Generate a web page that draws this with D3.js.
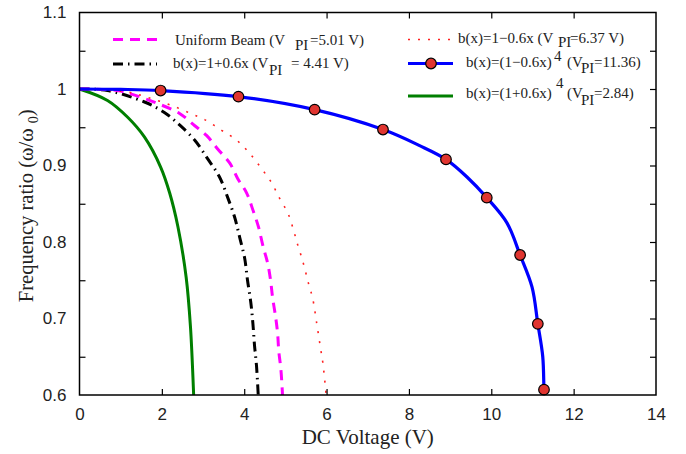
<!DOCTYPE html>
<html lang="en">
<head>
<meta charset="UTF-8">
<title>Frequency ratio vs DC voltage</title>
<script src="https://d3js.org/d3.v7.min.js"></script>
<style>
    body { margin: 0; background: #fff; }
    svg { display: block; font-family: "Liberation Serif", "Times New Roman", serif; }
    .tick text { fill: #222; font-size: 17px; }
    .tick line { stroke: #000; stroke-width: 1.2px; }
    .legend text { fill: #222; font-size: 15px; }
</style>
</head>
<body>
<svg id="chart" width="686" height="454"></svg>
<script>
    // axis ticks
    const xTicks = [0, 2, 4, 6, 8, 10, 12, 14];
    const yTicks = [0.6, 0.7, 0.8, 0.9, 1.0, 1.1];
    const yLeftMinor = [0.65, 0.75, 0.85, 0.95, 1.05];
    const yRightTicks = [0.65, 0.7, 0.75, 0.8, 0.85, 0.9, 0.95, 1.0, 1.05];

    // curves: [voltage, frequency ratio]
    const uniform = [[0, 1.0], [0.92, 0.998], [1.34, 0.992], [1.90, 0.981], [2.43, 0.968], [2.80, 0.952],
        [3.09, 0.939], [3.35, 0.922], [3.65, 0.903], [3.84, 0.883], [4.06, 0.864], [4.21, 0.842],
        [4.35, 0.819], [4.45, 0.796], [4.57, 0.772], [4.64, 0.750], [4.69, 0.727], [4.76, 0.703],
        [4.81, 0.681], [4.84, 0.657], [4.89, 0.634], [4.93, 0.600]];
    const linPlus = [[0, 1.0], [0.68, 0.998], [1.58, 0.983], [2.07, 0.969], [2.45, 0.952], [2.80, 0.933],
        [3.11, 0.909], [3.40, 0.885], [3.60, 0.858], [3.77, 0.832], [3.89, 0.806], [4.01, 0.779],
        [4.08, 0.750], [4.16, 0.721], [4.21, 0.694], [4.25, 0.665], [4.30, 0.637], [4.34, 0.600]];
    const linMinus = [[0, 1.0], [1.17, 0.996], [1.65, 0.989], [2.21, 0.979], [2.70, 0.968], [3.04, 0.960],
        [3.45, 0.946], [3.82, 0.933], [4.13, 0.916], [4.42, 0.896], [4.67, 0.877], [4.86, 0.857],
        [5.06, 0.838], [5.20, 0.815], [5.30, 0.796], [5.40, 0.779], [5.49, 0.761], [5.57, 0.744],
        [5.66, 0.727], [5.76, 0.694], [5.86, 0.659], [5.91, 0.642], [5.99, 0.600]];
    const quartMinus = [[0, 1.0], [1.0, 0.9995], [1.97, 0.998], [3.86, 0.990], [5.71, 0.973],
        [7.37, 0.947], [8.26, 0.926], [8.90, 0.908], [9.41, 0.885],
        [9.89, 0.858], [10.38, 0.825], [10.70, 0.783], [10.99, 0.741], [11.13, 0.693], [11.25, 0.650],
        [11.28, 0.607], [11.29, 0.600]];
    const quartMinusMarks = [[1.97, 0.998], [3.86, 0.990], [5.71, 0.973], [7.37, 0.947], [8.90, 0.908],
        [9.89, 0.858], [10.70, 0.783], [11.13, 0.693], [11.28, 0.607]];
    const quartPlus = [[0, 1.0], [0.68, 0.985], [1.17, 0.963], [1.58, 0.937], [1.97, 0.898], [2.19, 0.864],
        [2.39, 0.820], [2.59, 0.754], [2.695, 0.689], [2.77, 0.603], [2.772, 0.600]];

    const margin = {left: 79.5, right: 30, top: 12.5, bottom: 59};
    const W = 686, H = 454;
    const svg = d3.select("#chart");

    const x = d3.scaleLinear().domain([0, 14]).range([margin.left, W - margin.right]);
    const y = d3.scaleLinear().domain([0.6, 1.1]).range([H - margin.bottom, margin.top]);

    svg.append("clipPath").attr("id", "clip")
        .append("rect")
        .attr("x", x(0)).attr("y", y(1.1))
        .attr("width", x(14) - x(0)).attr("height", y(0.6) - y(1.1));

    const line = d3.line().x(d => x(d[0])).y(d => y(d[1])).curve(d3.curveCatmullRom.alpha(0.5));

    const series = [
        {data: quartPlus, color: "#007f00", width: 3, dash: null},
        {data: linPlus, color: "#000", width: 3, dash: "10,5,1.5,5"},
        {data: uniform, color: "#ff00ff", width: 3, dash: "10,7"},
        {data: linMinus, color: "#ff2020", width: 1.6, dash: "2,8"},
        {data: quartMinus, color: "#0000ff", width: 3.2, dash: null}
    ];

    const plot = svg.append("g").attr("clip-path", "url(#clip)");
    plot.selectAll("path.curve")
        .data(series)
        .join("path")
        .attr("class", "curve")
        .attr("d", d => line(d.data))
        .attr("fill", "none")
        .attr("stroke", d => d.color)
        .attr("stroke-width", d => d.width)
        .attr("stroke-dasharray", d => d.dash);

    svg.append("g").selectAll("circle")
        .data(quartMinusMarks)
        .join("circle")
        .attr("cx", d => x(d[0]))
        .attr("cy", d => y(d[1]))
        .attr("r", 5.3)
        .attr("fill", "#e03530")
        .attr("stroke", "#000")
        .attr("stroke-width", 1.2);

    // axes, ticks pointing inward
    const fmt = d => String(+d.toFixed(1));
    svg.append("g")
        .attr("transform", `translate(0,${y(0.6)})`)
        .call(d3.axisBottom(x).tickValues(xTicks).tickSizeInner(-6).tickSizeOuter(0).tickPadding(13));
    svg.append("g")
        .attr("transform", `translate(0,${y(1.1)})`)
        .call(d3.axisTop(x).tickValues(xTicks).tickSizeInner(-6).tickSizeOuter(0).tickFormat(""));
    svg.append("g")
        .attr("transform", `translate(${x(0)},0)`)
        .call(d3.axisLeft(y).tickValues(yTicks).tickSize(0).tickPadding(13).tickFormat(fmt));
    svg.append("g")
        .attr("transform", `translate(${x(0)},0)`)
        .call(d3.axisLeft(y).tickValues(yLeftMinor).tickSizeInner(-6).tickSizeOuter(0).tickFormat(""));
    svg.append("g")
        .attr("transform", `translate(${x(14)},0)`)
        .call(d3.axisRight(y).tickValues(yRightTicks).tickSizeInner(-6).tickSizeOuter(0).tickFormat(""));
    svg.selectAll(".domain").remove();
    svg.selectAll(".tick text").attr("font-family", null).attr("font-size", null);
    // drop ticks that sit on the frame
    svg.selectAll(".tick").filter(d => d === 0 || d === 14).select("line").remove();

    svg.append("rect")
        .attr("x", x(0)).attr("y", y(1.1))
        .attr("width", x(14) - x(0)).attr("height", y(0.6) - y(1.1))
        .attr("fill", "none").attr("stroke", "#000").attr("stroke-width", 1.5);

    // axis titles
    svg.append("text")
        .attr("x", (x(0) + x(14)) / 2).attr("y", 444)
        .attr("text-anchor", "middle")
        .attr("font-size", 21).attr("fill", "#222")
        .text("DC Voltage (V)");

    const yl = svg.append("text")
        .attr("transform", `translate(33,${(y(0.6) + y(1.1)) / 2 + 2}) rotate(-90)`)
        .attr("text-anchor", "middle")
        .attr("font-size", 20.5).attr("fill", "#222");
    yl.append("tspan").text("Frequency ratio (\u03c9/\u03c9 ");
    yl.append("tspan").attr("font-size", 14).attr("dy", 5).text("0");
    yl.append("tspan").attr("dy", -5).text(")");

    // legend
    const lg = svg.append("g").attr("class", "legend");

    function sample(x1, x2, yy, s) {
        lg.append("line")
            .attr("x1", x1).attr("x2", x2).attr("y1", yy).attr("y2", yy)
            .attr("stroke", s.color).attr("stroke-width", s.width)
            .attr("stroke-dasharray", s.dash);
    }

    sample(113, 157, 39.5, series[2]);
    sample(113, 157, 64, series[1]);
    sample(408, 451, 39.5, series[3]);
    sample(408, 453, 63.5, series[4]);
    sample(408, 453, 96, series[0]);
    lg.append("circle").attr("cx", 431).attr("cy", 63.5).attr("r", 5.3)
        .attr("fill", "#e03530").attr("stroke", "#000").attr("stroke-width", 1.2);

    // each piece: text, left x, baseline y, font size
    function piece(t, px, py, size) {
        const el = lg.append("text").attr("x", px).attr("y", py).text(t);
        if (size) el.attr("font-size", size);
    }

    piece("Uniform Beam (V", 175, 45);
    piece("PI", 295, 49.5, 13);
    piece("=5.01 V)", 310, 45);

    piece("b(x)=1+0.6x (V", 173, 68);
    piece("PI", 269, 75, 15);
    piece("= 4.41 V)", 291, 68);

    piece("b(x)=1\u22120.6x (V", 458, 43);
    piece("PI", 558, 47, 13);
    piece("=6.37 V)", 570, 43);

    piece("b(x)=(1\u22120.6x)", 466, 67);
    piece("4", 554, 60.5, 11.5);
    piece("(V", 567, 67);
    piece("PI", 581, 73, 13);
    piece("=11.36)", 594, 67);

    piece("b(x)=(1+0.6x)", 466, 98);
    piece("4", 556, 88, 12);
    piece("(V", 567, 98);
    piece("PI", 581, 104.5, 13);
    piece("=2.84)", 594, 98);
</script>
</body>
</html>
